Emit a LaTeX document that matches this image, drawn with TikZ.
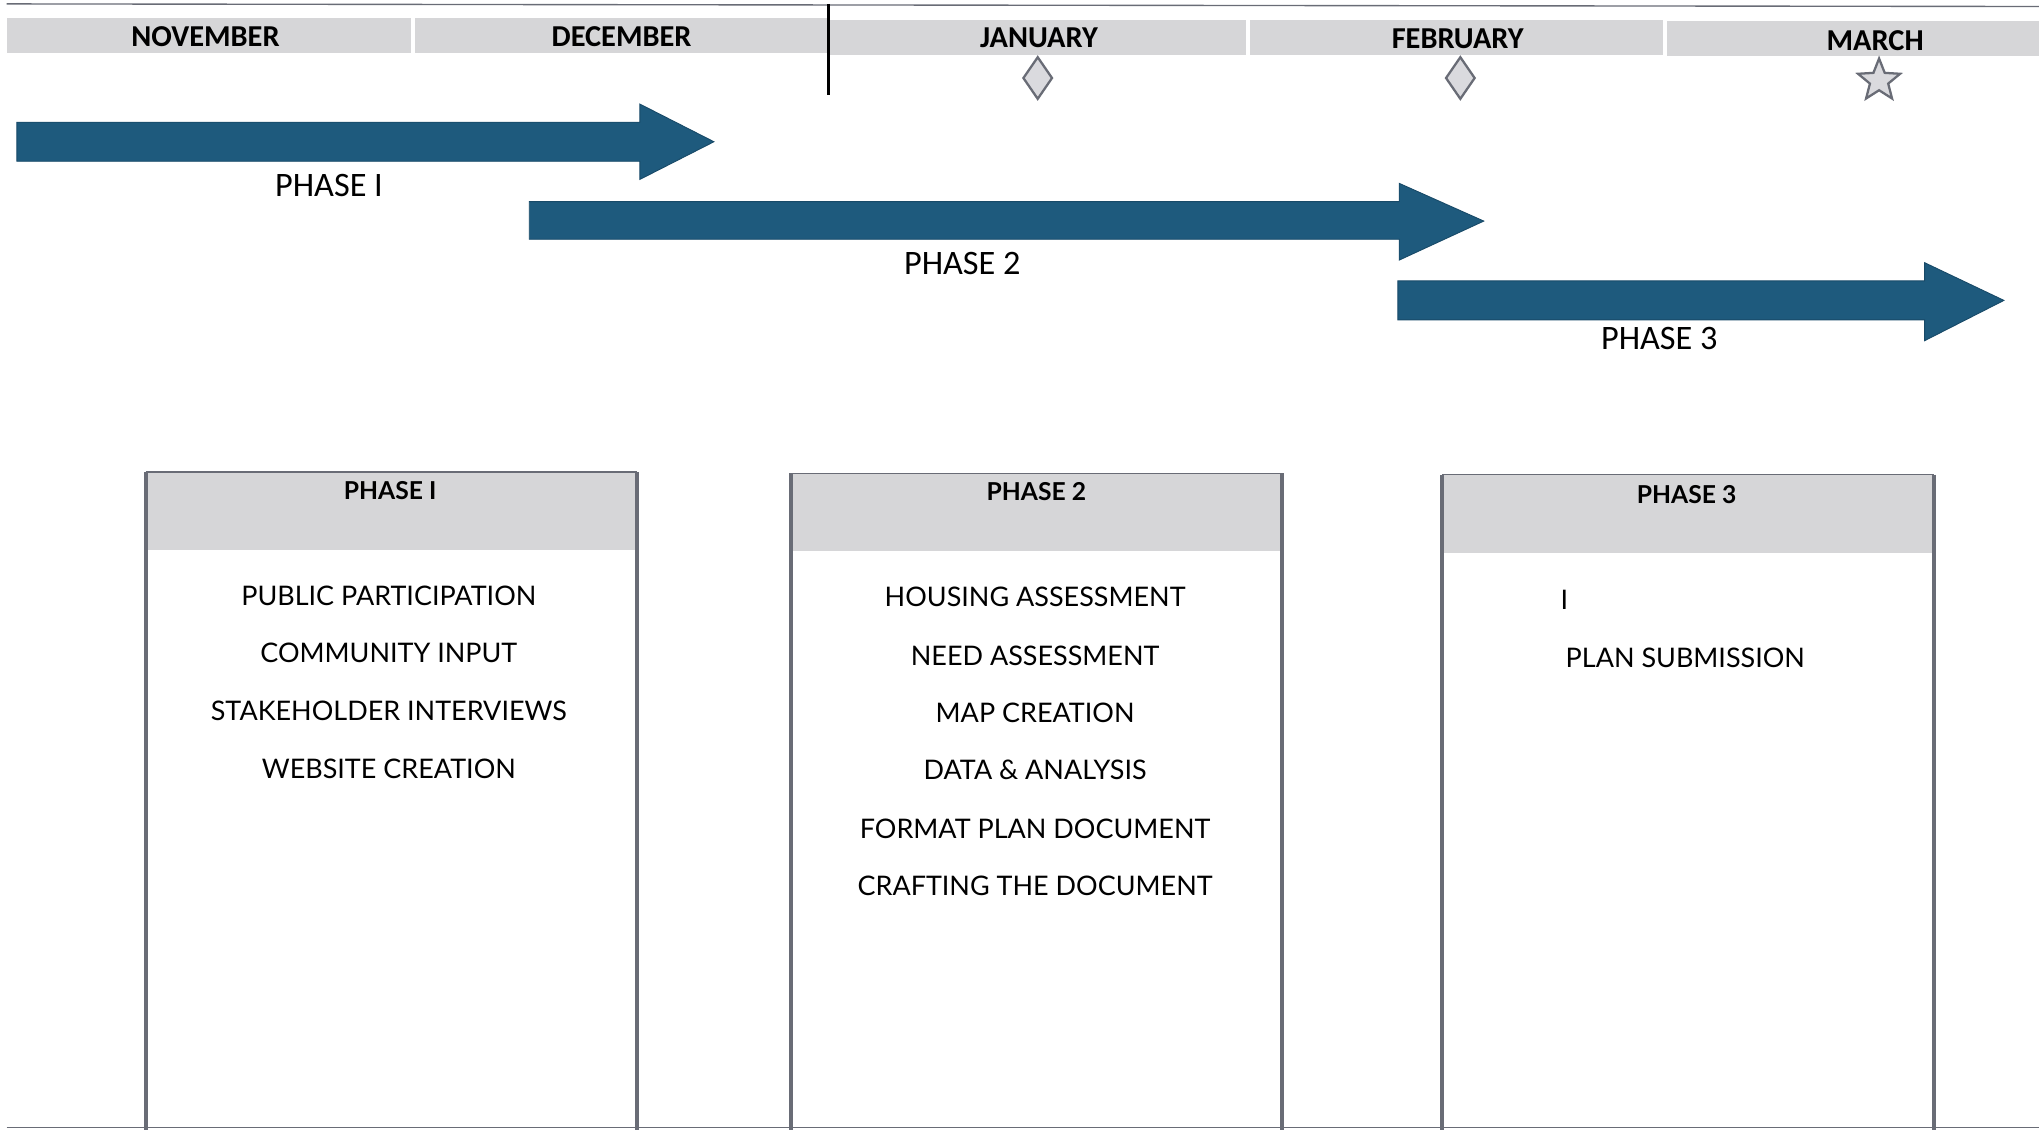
\documentclass[tikz,border=0pt]{standalone}
\usepackage{fontspec}
\setmainfont{Lato}
\newfontfamily\mesefont{Carlito}
\newfontfamily\titolofont{Lato Black}
\usetikzlibrary{shapes.geometric}

\definecolor{bandagrigia}{RGB}{214,214,216}
\definecolor{faseblu}{RGB}{30,90,125}
\definecolor{faseblubordo}{RGB}{24,74,104}
\definecolor{bordogrigio}{RGB}{105,108,118}
\definecolor{tappagrigio}{RGB}{218,218,222}

\tikzset{
  mese/.style={font=\mesefont\bfseries\fontsize{13.3}{15}\selectfont, inner sep=0pt},
  fase/.style={font=\mesefont\fontsize{15}{18}\selectfont, inner sep=0pt},
  titolo/.style={font=\bfseries\fontsize{10.8}{12}\selectfont, inner sep=0pt},
  voce/.style={font=\fontsize{11.8}{14}\selectfont, inner sep=0pt},
  freccia/.style={fill=faseblu, draw=faseblubordo, line width=0.4pt},
  tappa/.style={draw=bordogrigio, fill=tappagrigio, line width=1pt},
  bordo/.style={draw=bordogrigio, line width=1.8pt},
  bordosottile/.style={draw=bordogrigio, line width=0.6pt}
}

\begin{document}
\begin{tikzpicture}[x=0.02cm, y=-0.02cm]
        \useasboundingbox (0,0) rectangle (1568,869);

        %%%%%%%%%% Mesi %%%%%%%%%%
        \draw[bordosottile] (5,3) -- (1568,5);
        \fill[bandagrigia] (5,14) rectangle (316,41);
        \fill[bandagrigia] (319,14) rectangle (636,41);
        \fill[bandagrigia] (638,15) rectangle (958,42);
        \fill[bandagrigia] (961,15) rectangle (1279,42);
        \fill[bandagrigia] (1282,16) rectangle (1568,43);
        \node[mese] (nov) at (158,28) {NOVEMBER};
        \node[mese] (dic) at (478,28) {DECEMBER};
        \node[mese] (gen) at (799,29) {JANUARY};
        \node[mese] (feb) at (1121,30) {FEBRUARY};
        \node[mese] (mar) at (1442,31) {MARCH};
        \draw[line width=1.2pt] (637,3) -- (637,73);

        %%%%%%%%%% Tappe %%%%%%%%%%
        \draw[tappa] (798,44) -- (809,60) -- (798,76) -- (787,60) -- cycle;
        \draw[tappa] (1123,44) -- (1134,60) -- (1123,76) -- (1112,60) -- cycle;
        \node[tappa, star, star points=5, star point ratio=2.3, minimum size=0.68cm, inner sep=0pt] (stella) at (1445,62) {};

        %%%%%%%%%% Frecce %%%%%%%%%
        \draw[freccia] (13,94) -- (492,94) -- (492,80) -- (549,109) -- (492,138) -- (492,124) -- (13,124) -- cycle;
        \draw[freccia] (407,155) -- (1076,155) -- (1076,141) -- (1141,170) -- (1076,200) -- (1076,184) -- (407,184) -- cycle;
        \draw[freccia] (1075,216) -- (1480,216) -- (1480,202) -- (1541,231) -- (1480,262) -- (1480,246) -- (1075,246) -- cycle;
        \node[fase] (f1) at (253,143) {PHASE I};
        \node[fase] (f2) at (740,203) {PHASE 2};
        \node[fase] (f3) at (1276,260) {PHASE 3};

        %%%%%%%%%% Riquadri %%%%%%%%%%
        \fill[bandagrigia] (112,363) rectangle (490,423);
        \fill[bandagrigia] (608,364) rectangle (986,424);
        \fill[bandagrigia] (1109,365) rectangle (1487,425);
        \draw[bordosottile] (112,363) -- (490,363);
        \draw[bordosottile] (608,364) -- (986,364);
        \draw[bordosottile] (1109,365) -- (1487,365);
        \draw[bordo] (112,363) -- (112,869);
        \draw[bordo] (490,363) -- (490,869);
        \draw[bordo] (608,364) -- (608,869);
        \draw[bordo] (986,364) -- (986,869);
        \draw[bordo] (1109,365) -- (1109,869);
        \draw[bordo] (1487,365) -- (1487,869);
        \draw[bordosottile] (5,867) -- (1568,867);

        %%%%%%%%%% Testi %%%%%%%%%%
        \node[titolo] (t1) at (300,377) {\titolofont PHASE I};
        \node[voce] (t1a) at (299,458) {PUBLIC PARTICIPATION};
        \node[voce] (t1b) at (299,502) {COMMUNITY INPUT};
        \node[voce] (t1c) at (299,547) {STAKEHOLDER INTERVIEWS};
        \node[voce] (t1d) at (299,591) {WEBSITE CREATION};

        \node[titolo] (t2) at (797,378) {\titolofont PHASE 2};
        \node[voce] (t2a) at (796,459) {HOUSING ASSESSMENT};
        \node[voce] (t2b) at (796,504) {NEED ASSESSMENT};
        \node[voce] (t2c) at (796,548) {MAP CREATION};
        \node[voce] (t2d) at (796,592) {DATA \& ANALYSIS};
        \node[voce] (t2e) at (796,637) {FORMAT PLAN DOCUMENT};
        \node[voce] (t2f) at (796,681) {CRAFTING THE DOCUMENT};

        \node[titolo] (t3) at (1297,380) {\titolofont PHASE 3};
        \node[voce] (t3a) at (1203,461) {I};
        \node[voce] (t3b) at (1296,506) {PLAN SUBMISSION};
\end{tikzpicture}
\end{document}
